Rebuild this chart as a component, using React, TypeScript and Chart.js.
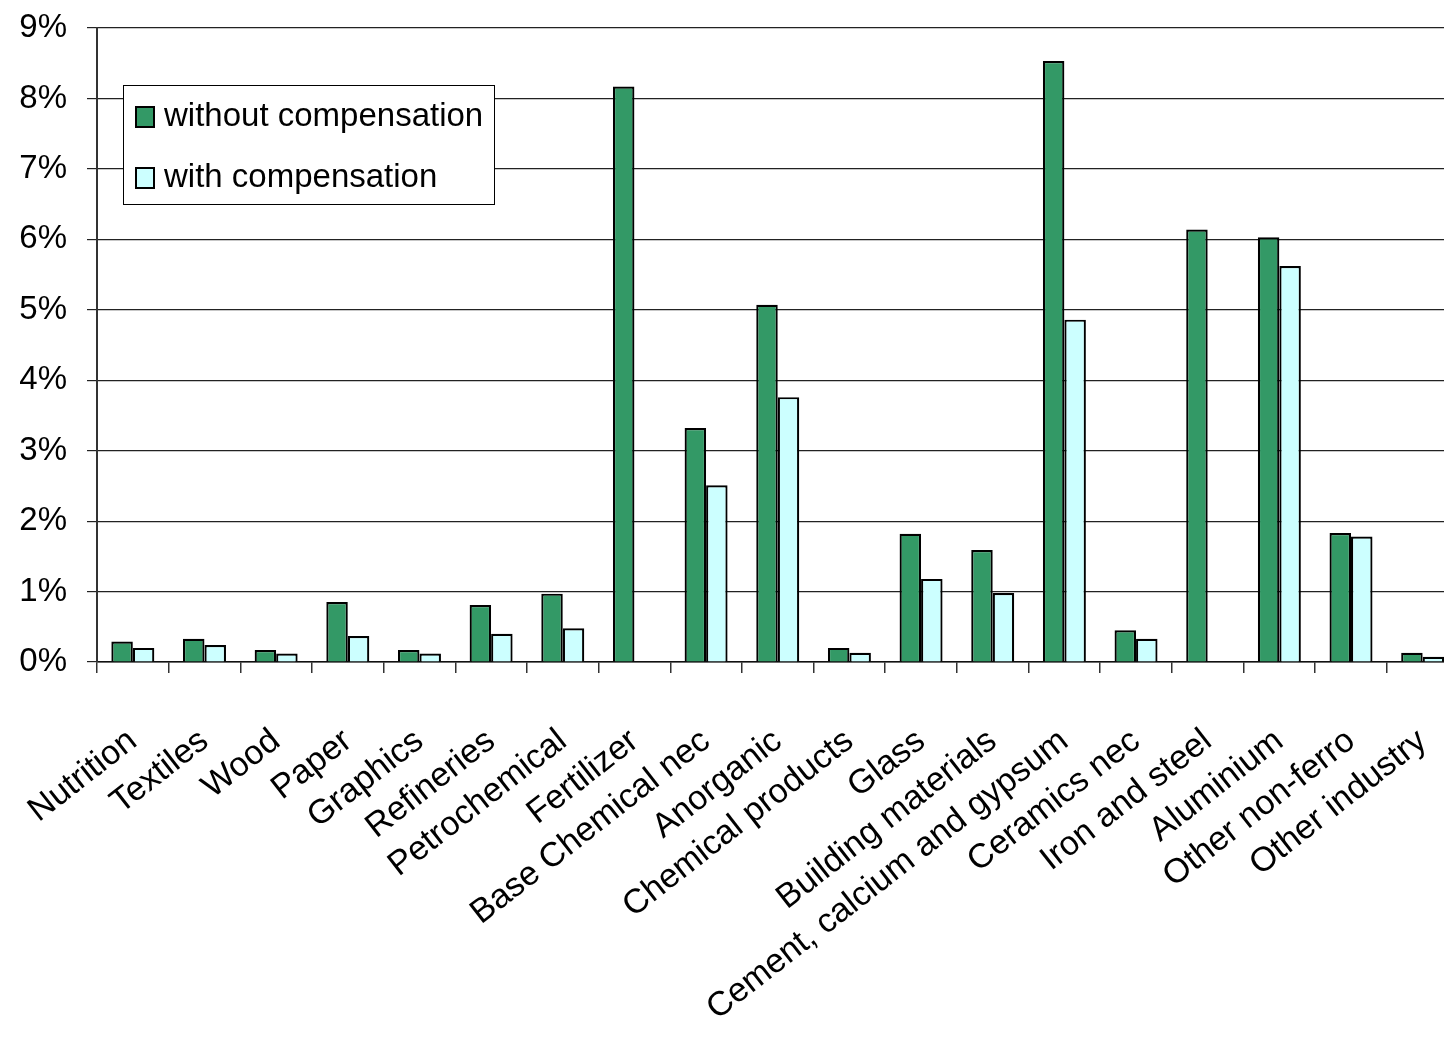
import { useEffect, useRef } from "react";
import { Chart, registerables } from "chart.js";

Chart.register(...registerables);

const categories = [
  "Nutrition",
  "Textiles",
  "Wood",
  "Paper",
  "Graphics",
  "Refineries",
  "Petrochemical",
  "Fertilizer",
  "Base Chemical nec",
  "Anorganic",
  "Chemical products",
  "Glass",
  "Building materials",
  "Cement, calcium and gypsum",
  "Ceramics nec",
  "Iron and steel",
  "Aluminium",
  "Other non-ferro",
  "Other industry",
];

// share of costs, in percent
const withoutCompensation = [
  0.29, 0.33, 0.17, 0.85, 0.17, 0.81, 0.97, 8.17, 3.32, 5.07, 0.2, 1.82, 1.59,
  8.53, 0.45, 6.14, 6.03, 1.83, 0.13,
];
const withCompensation = [
  0.2, 0.24, 0.12, 0.37, 0.12, 0.4, 0.48, 0, 2.51, 3.76, 0.13, 1.18, 0.98,
  4.86, 0.33, 0, 5.62, 1.78, 0.075,
];

const seriesLabels = ["without compensation", "with compensation"];
const seriesColors = ["#339966", "#CCFFFF"];

const yTicks = [0, 1, 2, 3, 4, 5, 6, 7, 8, 9];

const FONT = "'Liberation Sans', Arial, sans-serif";

// boxed legend drawn inside the plot area, upper left
const boxLegend = {
  id: "boxLegend",
  afterDraw(chart: any) {
    const { ctx, chartArea } = chart;
    const x = chartArea.left + 26;
    const y = chartArea.top + 57;
    const w = 371;
    const h = 119;
    ctx.save();
    ctx.fillStyle = "#ffffff";
    ctx.fillRect(x, y, w, h);
    ctx.strokeStyle = "#000000";
    ctx.lineWidth = 1;
    ctx.strokeRect(x + 0.5, y + 0.5, w, h);
    ctx.font = `33px ${FONT}`;
    ctx.textBaseline = "alphabetic";
    ctx.textAlign = "left";
    chart.data.datasets.forEach((ds: any, i: number) => {
      const rowY = y + 22 + i * 61;
      ctx.fillStyle = ds.backgroundColor;
      ctx.fillRect(x + 13, rowY, 18, 20);
      ctx.strokeStyle = "#000000";
      ctx.lineWidth = 2;
      ctx.strokeRect(x + 13, rowY, 18, 20);
      ctx.fillStyle = "#000000";
      ctx.fillText(ds.label, x + 41, rowY + 19);
    });
    ctx.restore();
  },
};

export default function App() {
  const canvasRef = useRef<HTMLCanvasElement | null>(null);

  useEffect(() => {
    if (!canvasRef.current) return;
    const chart = new Chart(canvasRef.current, {
      type: "bar",
      data: {
        labels: categories,
        datasets: [
          {
            label: seriesLabels[0],
            data: withoutCompensation,
            backgroundColor: seriesColors[0],
            borderColor: "#000000",
            borderWidth: 2.2,
          },
          {
            label: seriesLabels[1],
            data: withCompensation,
            backgroundColor: seriesColors[1],
            borderColor: "#000000",
            borderWidth: 2.2,
          },
        ],
      },
      options: {
        responsive: false,
        animation: false,
        devicePixelRatio: 1,
        layout: { padding: { top: 28, right: 1.5, bottom: 0, left: 0 } },
        datasets: {
          bar: { categoryPercentage: 0.6, barPercentage: 1.0 },
        },
        plugins: {
          legend: { display: false },
          tooltip: { enabled: false },
        },
        scales: {
          x: {
            grid: {
              offset: true,
              drawOnChartArea: false,
              drawTicks: true,
              tickLength: 11,
              color: "#333333",
              lineWidth: 1.5,
            },
            border: { display: true, color: "#111111", width: 1.5 },
            ticks: {
              autoSkip: false,
              maxRotation: 38,
              minRotation: 38,
              padding: 48,
              color: "#000000",
              font: { family: FONT, size: 34 },
            },
            afterFit(scale: any) {
              scale.height = 380;
              scale.paddingLeft = 0;
              scale.paddingRight = 0;
            },
          },
          y: {
            min: 0,
            max: 9,
            afterBuildTicks(scale: any) {
              scale.ticks = yTicks.map((v) => ({ value: v }));
            },
            grid: {
              color: "#222222",
              lineWidth: 1.2,
              tickLength: 10,
            },
            border: { display: true, color: "#333333", width: 2 },
            ticks: {
              padding: 20,
              color: "#000000",
              font: { family: FONT, size: 33 },
              callback: (v: any) => `${v}%`,
            },
            afterFit(scale: any) {
              scale.width = 97;
              scale.paddingTop = 0;
              scale.paddingBottom = 0;
            },
          },
        },
      },
      plugins: [boxLegend],
    });
    return () => chart.destroy();
  }, []);

  return (
    <div
      style={{
        position: "fixed",
        left: 0,
        top: 0,
        width: 1444,
        height: 1042,
        overflow: "hidden",
        background: "#ffffff",
      }}
    >
      <canvas
        ref={canvasRef}
        width={1460}
        height={1042}
        style={{ width: 1460, height: 1042, display: "block" }}
      />
    </div>
  );
}
